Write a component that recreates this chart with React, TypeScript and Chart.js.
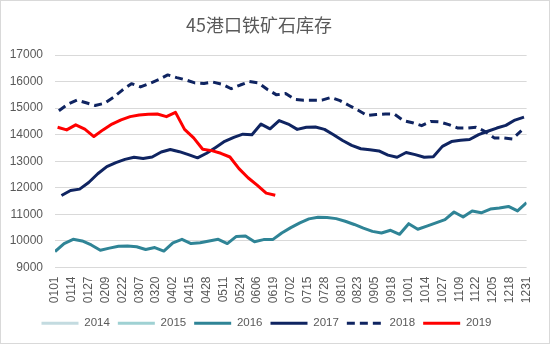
import { useEffect, useRef } from 'react';
import { Chart, registerables } from 'chart.js';

Chart.register(...registerables);

const titleText = '45港口铁矿石库存';
const seriesNames = ['2014', '2015', '2016', '2017', '2018', '2019'];
const seriesColors = ['#c3dbe0', '#9fd1d3', '#2f8496', '#0f2461', '#0f2461', '#ff0000'];
const xTickLabels = [
  '0101', '0114', '0127', '0209', '0222', '0307', '0320', '0402', '0415', '0428',
  '0511', '0524', '0606', '0619', '0702', '0715', '0728', '0810', '0823', '0905',
  '0918', '1001', '1014', '1027', '1109', '1122', '1205', '1218', '1231',
];
const yTicks = [9000, 10000, 11000, 12000, 13000, 14000, 15000, 16000, 17000];

// first observation date of each year (weekly observations afterwards)
const startDates = ['0101', '0101', '0101', '0106', '0104', '0103'];

const values2014: number[] = [];
const values2015: number[] = [];
const values2016 = [
  9600, 9900, 10060, 10000, 9850, 9650, 9730, 9800, 9810, 9780,
  9680, 9750, 9620, 9930, 10060, 9900, 9930, 10000, 10060, 9900,
  10170, 10190, 9970, 10050, 10050, 10300, 10500, 10680, 10830, 10890,
  10880, 10840, 10740, 10620, 10480, 10360, 10300, 10400, 10250, 10650,
  10440, 10560, 10680, 10800, 11090, 10900, 11130, 11060, 11200, 11240,
  11300, 11130, 11440,
];
const values2017 = [
  11710, 11900, 11950, 12200, 12530, 12800, 12950, 13070, 13150, 13100,
  13160, 13350, 13440, 13360, 13250, 13130, 13300, 13520, 13750, 13900,
  14020, 14000, 14400, 14220, 14530, 14400, 14200, 14280, 14290, 14200,
  14000, 13780, 13600, 13470, 13430, 13390, 13230, 13150, 13330, 13250,
  13150, 13170, 13560, 13740, 13790, 13820, 14000, 14130, 14250, 14350,
  14550, 14660,
];
const values2018 = [
  14900, 15150, 15300, 15200, 15100, 15180, 15400, 15680, 15920, 15800,
  15930, 16070, 16250, 16150, 16060, 15950, 15930, 15980, 15900, 15730,
  15870, 16000, 15950, 15700, 15500, 15550, 15330, 15300, 15300, 15300,
  15400, 15280, 15100, 14920, 14720, 14760, 14780, 14770, 14530, 14450,
  14340, 14500, 14480, 14380, 14250, 14250, 14280, 14120, 13880, 13880,
  13840, 14150,
];
const values2019 = [
  14280, 14180, 14370, 14210, 13930, 14180, 14400, 14560, 14680, 14740,
  14770, 14780, 14680, 14840, 14200, 13880, 13450, 13400, 13300, 13160,
  12720, 12380, 12100, 11800, 11720,
];
const allValues = [values2014, values2015, values2016, values2017, values2018, values2019];

const cumDays = [0, 31, 59, 90, 120, 151, 181, 212, 243, 273, 304, 334];
function dayOfYear(mmdd: string): number {
  const m = parseInt(mmdd.slice(0, 2), 10);
  const d = parseInt(mmdd.slice(2), 10);
  return cumDays[m - 1] + d - 1;
}
function weekly(start: string, vals: number[]) {
  const d0 = dayOfYear(start);
  return vals.map((v, i) => ({ x: d0 + 7 * i, y: v }));
}

const FONT = '"Liberation Sans", Arial, sans-serif';
const TEXT = '#595959';

const framePlugin = {
  id: 'frame',
  beforeDraw(chart: any) {
    const { ctx, width, height } = chart;
    ctx.save();
    ctx.fillStyle = '#ffffff';
    ctx.fillRect(0, 0, width, height);
    ctx.strokeStyle = '#d9d9d9';
    ctx.lineWidth = 1;
    ctx.strokeRect(0.5, 0.5, width - 1, height - 1);
    ctx.restore();
  },
  afterDraw(chart: any) {
    const { ctx, width } = chart;
    ctx.save();
    ctx.font = '18px "Noto Sans CJK SC", sans-serif';
    ctx.fillStyle = TEXT;
    ctx.textAlign = 'center';
    ctx.textBaseline = 'middle';
    ctx.fillText(titleText, width * 0.471, 25);
    ctx.restore();
  },
};

export default function App() {
  const ref = useRef<HTMLCanvasElement | null>(null);

  useEffect(() => {
    if (!ref.current) return;
    const datasets = seriesNames.map((name, i) => ({
      label: name,
      data: weekly(startDates[i], allValues[i]),
      borderColor: seriesColors[i],
      backgroundColor: seriesColors[i],
      borderWidth: 3,
      borderDash: name === '2018' ? [8, 5] : [],
      pointRadius: 0,
      tension: 0,
      fill: false,
      borderJoinStyle: 'round' as const,
      order: seriesNames.length - 1 - i,
    }));

    const chart = new Chart(ref.current, {
      type: 'line',
      data: { datasets },
      plugins: [framePlugin],
      options: {
        responsive: false,
        animation: false,
        layout: { padding: { top: 55, right: 17, bottom: 5, left: 0 } },
        scales: {
          x: {
            type: 'linear',
            min: 0,
            max: 364,
            afterBuildTicks(scale: any) {
              scale.ticks = xTickLabels.map((l) => ({ value: dayOfYear(l) }));
            },
            afterFit(scale: any) {
              scale.height = 42;
            },
            grid: { display: false, drawTicks: false },
            border: { display: false },
            ticks: {
              autoSkip: false,
              maxRotation: 90,
              minRotation: 90,
              padding: 9,
              color: TEXT,
              font: { size: 12, family: FONT },
              callback: (value: any) => xTickLabels.find((l) => dayOfYear(l) === value) ?? '',
            },
          },
          y: {
            min: yTicks[0],
            max: yTicks[yTicks.length - 1],
            afterBuildTicks(scale: any) {
              scale.ticks = yTicks.map((v) => ({ value: v }));
            },
            afterFit(scale: any) {
              scale.width = 55;
            },
            grid: { color: '#d9d9d9', drawTicks: false },
            border: { display: false },
            ticks: {
              padding: 12,
              color: TEXT,
              font: { size: 12, family: FONT },
              callback: (v: any) => String(v),
            },
          },
        },
        plugins: {
          title: { display: false },
          tooltip: { enabled: false },
          legend: {
            position: 'bottom',
            labels: {
              usePointStyle: true,
              pointStyle: 'line',
              pointStyleWidth: 37,
              padding: 8,
              color: TEXT,
              font: { size: 11.5, family: FONT },
              sort: (a: any, b: any) => a.datasetIndex - b.datasetIndex,
              generateLabels: (ch: any) => {
                const base = Chart.defaults.plugins.legend.labels.generateLabels(ch);
                return base.map((item: any) => {
                  const ds = ch.data.datasets[item.datasetIndex];
                  return {
                    ...item,
                    pointStyle: 'line',
                    strokeStyle: ds.borderColor,
                    fillStyle: ds.borderColor,
                    lineWidth: 3,
                    lineDash: ds.borderDash,
                    fontColor: TEXT,
                  };
                });
              },
            },
          },
        },
      },
    } as any);
    return () => chart.destroy();
  }, []);

  return (
    <div style={{ position: 'fixed', left: 0, top: 0, width: 550, height: 344 }}>
      <canvas ref={ref} width={550} height={344} style={{ display: 'block', width: 550, height: 344 }} />
    </div>
  );
}
